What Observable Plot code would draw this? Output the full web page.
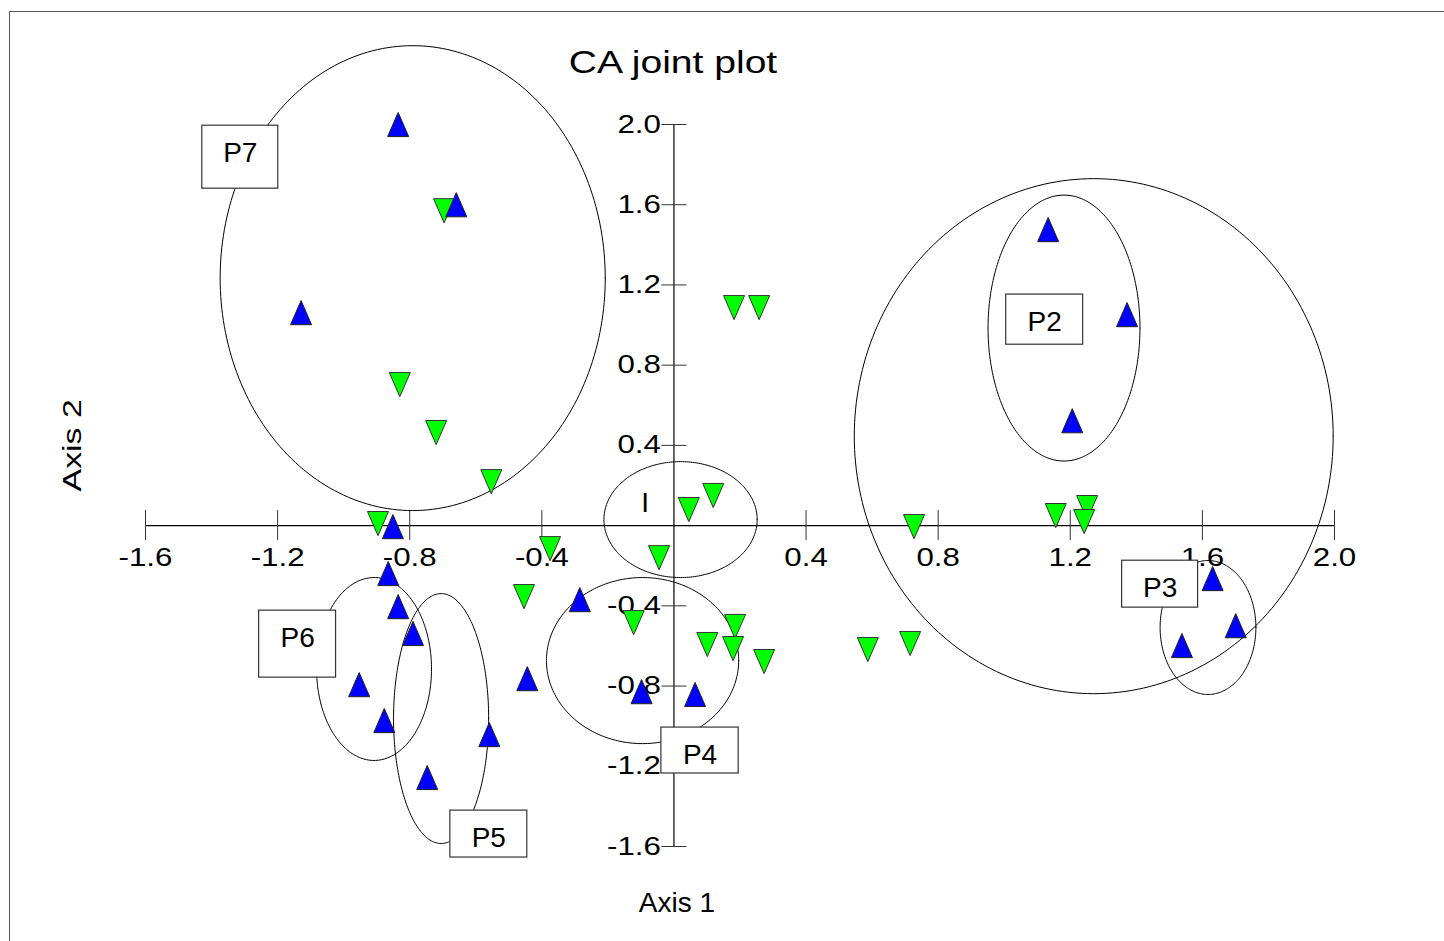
<!DOCTYPE html>
<html>
<head>
<meta charset="utf-8">
<script src="https://cdn.jsdelivr.net/npm/d3@7"></script>
<script src="https://cdn.jsdelivr.net/npm/@observablehq/plot@0.6"></script>
<style>
  body { margin: 0; background: #ffffff; }
  #wrap { position: relative; width: 1444px; height: 941px; overflow: hidden; background: #fff; }
  #frame { position: absolute; left: 9px; top: 11px; width: 1600px; height: 1100px;
           border-left: 1.5px solid #555; border-top: 1.5px solid #555; }
  #title { position: absolute; top: 47px; left: 673px; line-height: 31px;
           font-family: "Liberation Sans", Arial, sans-serif; font-size: 31px; color: #000;
           white-space: nowrap; transform: translateX(-50%) scaleX(1.26); }
  #chart { position: absolute; left: 0; top: 0; }
</style>
</head>
<body>
<div id="wrap">
  <div id="frame"></div>
  <div id="chart"></div>
  <div id="title">CA joint plot</div>
</div>
<script>
// ---- data ----
const blueX = [-0.835, -0.659, -1.129, 1.133, 1.372, 1.206, -0.851, -0.865, -0.835, -0.790, -0.953, -0.877, -0.747, -0.559, -0.444, -0.285, -0.098, 0.064, 1.631, 1.701, 1.538];
const blueY = [2.000, 1.600, 1.062, 1.476, 1.052, 0.523, -0.005, -0.239, -0.404, -0.538, -0.793, -0.972, -1.256, -1.042, -0.763, -0.369, -0.828, -0.842, -0.264, -0.499, -0.598];

const greenX = [-0.696, -0.830, -0.720, -0.553, -0.896, -0.375, -0.045, -0.454, -0.122, 0.045, 0.119, 0.182, 0.258, 0.185, 0.179, 0.273, 0.587, 0.715, 0.727, 1.156, 1.251, 1.242, 0.101];
const greenY = [1.570, 0.703, 0.464, 0.219, 0.010, -0.115, -0.160, -0.354, -0.484, 0.080, 0.150, 1.087, 1.087, -0.503, -0.613, -0.678, -0.618, -0.588, -0.005, 0.050, 0.090, 0.020, -0.593];

const ellipseNames = ["P7", "P2+P3", "P2", "P3", "I", "P4", "P6", "P5"];
const ellipseCx = [-0.791, 1.271, 1.181, 1.617, 0.020, -0.095, -0.908, -0.705];
const ellipseCy = [1.234, 0.446, 0.985, -0.508, 0.030, -0.673, -0.715, -0.962];
const ellipseRx = [0.583, 0.725, 0.230, 0.145, 0.232, 0.291, 0.174, 0.144];
const ellipseRy = [1.159, 1.284, 0.663, 0.334, 0.289, 0.414, 0.456, 0.623];

const boxLabels = ["P7", "P2", "P3", "P4", "P5", "P6"];
const boxX1 = [-1.428, 1.006, 1.357, -0.038, -0.677, -1.256];
const boxX2 = [-1.198, 1.239, 1.587, 0.196, -0.444, -1.023];
const boxY1 = [1.680, 0.902, -0.409, -1.236, -1.655, -0.758];
const boxY2 = [1.994, 1.152, -0.175, -1.007, -1.421, -0.424];

const freeLabels = ["I"];
const freeLabelX = [-0.087];
const freeLabelY = [0.115];

const xTicks = [-1.6, -1.2, -0.8, -0.4, 0.4, 0.8, 1.2, 1.6, 2.0];
const xTickLabels = ["-1.6", "-1.2", "-0.8", "-0.4", "0.4", "0.8", "1.2", "1.6", "2.0"];
const yTicks = [2.0, 1.6, 1.2, 0.8, 0.4, -0.4, -0.8, -1.2, -1.6];
const yTickLabels = ["2.0", "1.6", "1.2", "0.8", "0.4", "-0.4", "-0.8", "-1.2", "-1.6"];

const xAxisTitle = "Axis 1";
const yAxisTitle = "Axis 2";

// ---- tables built from the arrays ----
const blue = blueX.map((x, i) => ({x, y: blueY[i]}));
const green = greenX.map((x, i) => ({x, y: greenY[i]}));
const boxes = boxLabels.map((label, i) => ({label, x1: boxX1[i], x2: boxX2[i], y1: boxY1[i], y2: boxY2[i]}));
const xTickData = xTicks.map((v, i) => ({v, label: xTickLabels[i]}));
const yTickData = yTicks.map((v, i) => ({v, label: yTickLabels[i]}));
const frees = freeLabels.map((label, i) => ({label, x: freeLabelX[i], y: freeLabelY[i]}));

// ellipse outlines (geometric shapes from centre + radii)
const ellipsePts = [];
ellipseNames.forEach((name, k) => {
  const n = 240;
  for (let j = 0; j <= n; j++) {
    const t = (j / n) * 2 * Math.PI;
    ellipsePts.push({name, x: ellipseCx[k] + ellipseRx[k] * Math.cos(t), y: ellipseCy[k] + ellipseRy[k] * Math.sin(t)});
  }
});

// custom triangle symbols
const triUp = {draw(ctx, size) { const r = Math.sqrt(size / Math.PI); ctx.moveTo(0, -1.15 * r); ctx.lineTo(r, 1.15 * r); ctx.lineTo(-r, 1.15 * r); ctx.closePath(); }};
const triDown = {draw(ctx, size) { const r = Math.sqrt(size / Math.PI); ctx.moveTo(0, 1.15 * r); ctx.lineTo(r, -1.15 * r); ctx.lineTo(-r, -1.15 * r); ctx.closePath(); }};

const FONT = "Liberation Sans, Arial, sans-serif";

const svg = Plot.plot({
  width: 1444,
  height: 941,
  marginLeft: 145,
  marginRight: 110,
  marginTop: 124,
  marginBottom: 95,
  style: {background: "transparent", fontFamily: FONT, overflow: "visible"},
  x: {domain: [-1.6, 2.0], axis: null},
  y: {domain: [-1.6, 2.0], axis: null},
  marks: [
    // axis lines through the origin
    Plot.ruleY([0], {x1: -1.6, x2: 2.0, stroke: "#000", strokeWidth: 1.2}),
    Plot.ruleX([0], {y1: -1.6, y2: 2.0, stroke: "#000", strokeWidth: 1.2}),
    // ticks crossing the axes
    Plot.ruleX(xTickData, {x: "v", y1: 0, y2: 0, insetTop: -15, insetBottom: -15, stroke: "#333", strokeWidth: 1}),
    Plot.ruleY(yTickData, {y: "v", x1: 0, x2: 0, insetLeft: -12, insetRight: -13, stroke: "#333", strokeWidth: 1}),
    // tick labels
    Plot.text(xTickData, {x: "v", y: () => 0, text: "label", dy: 32, fontSize: 25, fill: "#000", ariaDescription: "xticklabel"}),
    Plot.text(yTickData, {x: () => 0, y: "v", text: "label", textAnchor: "end", dx: -13, fontSize: 25, fill: "#000", ariaDescription: "yticklabel"}),
    // axis titles
    Plot.text([xAxisTitle], {x: () => 0, frameAnchor: "bottom", dx: 3, dy: 65, text: d => d, fontSize: 28, fill: "#000", ariaDescription: "xaxistitle"}),
    Plot.text([yAxisTitle], {y: () => 0.4, frameAnchor: "left", dx: -73, dy: 46, textAnchor: "start", text: d => d, rotate: -90, fontSize: 26, fill: "#000", ariaDescription: "yaxistitle"}),
    // group ellipses
    Plot.line(ellipsePts, {x: "x", y: "y", z: "name", stroke: "#000", strokeWidth: 1}),
    // label boxes
    Plot.rect(boxes, {x1: "x1", x2: "x2", y1: "y1", y2: "y2", fill: "#fff", stroke: "#333", strokeWidth: 1.2}),
    Plot.text(boxes, {x: d => (d.x1 + d.x2) / 2, y: "y2", dy: 27, text: "label", fontSize: 28, fill: "#000", ariaDescription: "boxlabel"}),
    Plot.text(frees, {x: "x", y: "y", text: "label", fontSize: 28, fill: "#000", ariaDescription: "boxlabel"}),
    // points
    Plot.dot(green, {x: "x", y: "y", r: 10.5, symbol: triDown, fill: "#00ff00", stroke: "#333", strokeWidth: 1}),
    Plot.dot(blue, {x: "x", y: "y", r: 10.5, symbol: triUp, fill: "#0000ff", stroke: "#222", strokeWidth: 1})
  ]
});

document.getElementById("chart").appendChild(svg);

// widen the glyphs like the reference rendering
function stretch(desc, factor) {
  svg.querySelectorAll(`g[aria-description="${desc}"] text`).forEach(t => {
    const w = t.getComputedTextLength();
    if (w > 0) {
      t.setAttribute("textLength", (w * factor).toFixed(1));
      t.setAttribute("lengthAdjust", "spacingAndGlyphs");
    }
  });
}
stretch("xticklabel", 1.25);
stretch("yticklabel", 1.25);
stretch("yaxistitle", 1.3);
</script>
</body>
</html>
